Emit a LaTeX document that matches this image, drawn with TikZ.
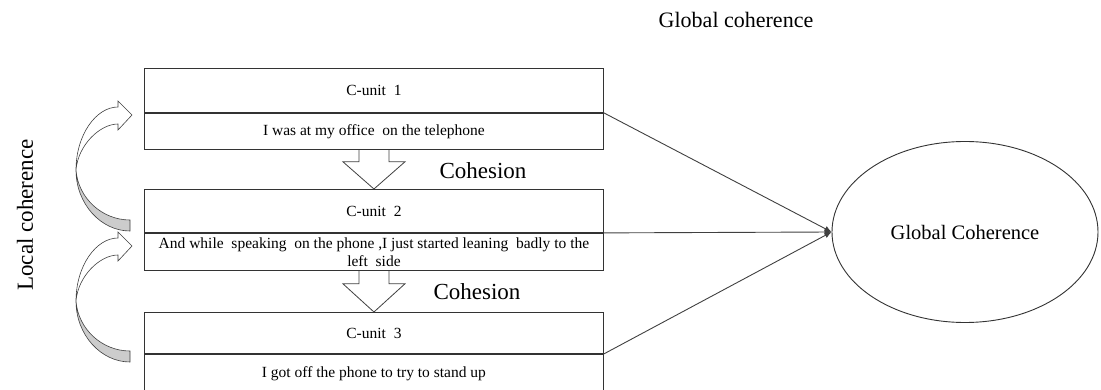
\documentclass[tikz,border=0pt]{standalone}
\usepackage{fontspec}
\setmainfont{Liberation Serif}
\usetikzlibrary{shapes.geometric,arrows.meta,calc}
\begin{document}
\begin{tikzpicture}[x=1pt,y=-1pt,
  cell/.style={draw=black!80, line width=0.9pt, minimum width=459pt, inner sep=0pt,
    anchor=north west, align=center, font=\fontsize{15.5}{18}\selectfont},
  conn/.style={draw=black!75, line width=0.9pt, -{Latex[length=7pt,width=6pt]}},
  blockarr/.style={draw=black!75, line width=0.8pt},
  biglabel/.style={font=\fontsize{23}{27}\selectfont, inner sep=0pt},
  curvarrow/.pic={
    \filldraw[fill=gray!40, draw=black!75, line width=0.6pt]
      (54,61) .. controls (25,61) and (0,34) .. (0,0)
      .. controls (2,28) and (26,50) .. (54,50) -- cycle;
    \filldraw[fill=white, draw=black!75, line width=0.6pt]
      (0,0) .. controls (0,-35) and (20,-63) .. (42,-63)
      -- (42,-69) -- (56,-55) -- (42,-40) -- (42,-46)
      .. controls (24,-46) and (2,-25) .. (0,0) -- cycle;
  }
]
\useasboundingbox (0,0) rectangle (1101,390);
\clip (0,0) rectangle (1101,390);

% boxes
\node[cell, minimum height=44pt] (c1top) at (144,68) {C-unit\ \ 1};
\node[cell, minimum height=36pt] (c1bot) at (c1top.south west) {I was at my office\ \ on the telephone};
\node[cell, minimum height=43pt] (c2top) at (144,189) {C-unit\ \ 2};
\node[cell, minimum height=37pt] (c2bot) at (c2top.south west)
  {And while\ \ speaking\ \ on the phone ,I just started leaning\ \ badly to the\\ left\ \ side};
\node[cell, minimum height=41pt, text depth=-3pt] (c3top) at (144,312) {C-unit\ \ 3};
\node[cell, minimum height=38pt] (c3bot) at (c3top.south west) {I got off the phone to try to stand up};

% cohesion block arrows
\draw[blockarr] ($(c1bot.south)+(-15,0)$) -- ($(c1bot.south)+(-15,12)$) -- ($(c1bot.south)+(-31,12)$)
  -- (c2top.north) -- ($(c1bot.south)+(31,12)$) -- ($(c1bot.south)+(15,12)$) -- ($(c1bot.south)+(15,0)$);
\draw[blockarr] ($(c2bot.south)+(-15,0)$) -- ($(c2bot.south)+(-15,13)$) -- ($(c2bot.south)+(-31,13)$)
  -- (c3top.north) -- ($(c2bot.south)+(31,13)$) -- ($(c2bot.south)+(15,13)$) -- ($(c2bot.south)+(15,0)$);

\node[biglabel] (coh1) at (483,171) {Cohesion};
\node[biglabel] (coh2) at (477,292) {Cohesion};

% global coherence ellipse
\node[ellipse, draw=black!80, line width=0.9pt, minimum width=266pt, minimum height=181pt,
  inner sep=0pt, font=\fontsize{20.5}{24}\selectfont] (gc) at (965,232) {Global Coherence};

\draw[conn] (c1top.south east) -- (gc.west);
\draw[conn] (c2top.south east) -- (gc.west);
\draw[conn] (c3top.south east) -- (gc.west);

% labels
\node[font=\fontsize{22}{26}\selectfont, inner sep=0pt, anchor=base] (toplabel) at (736,28) {Global coherence};
\node[biglabel, rotate=90] (local) at (25,215) {Local coherence};

% curved arrows
\pic at (76,170) {curvarrow};
\pic at (76,301) {curvarrow};
\end{tikzpicture}
\end{document}
